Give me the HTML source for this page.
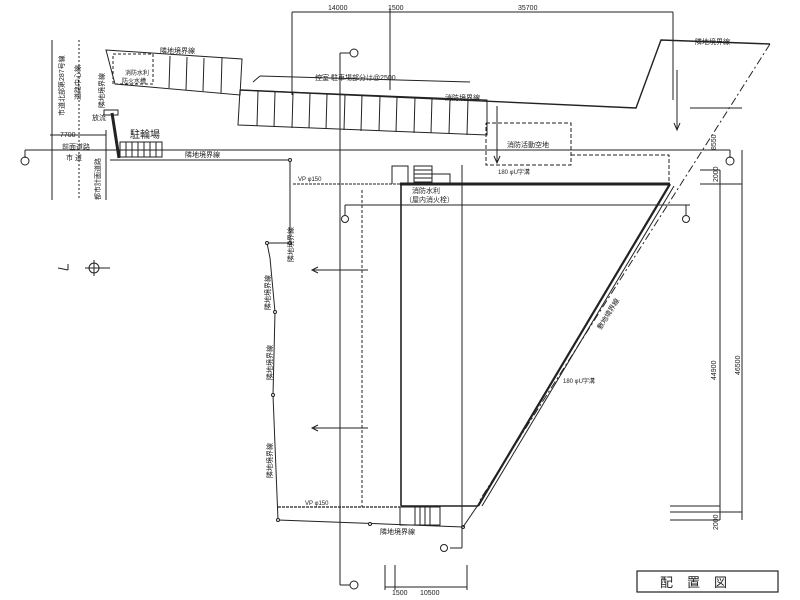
<!DOCTYPE html>
<html><head><meta charset="utf-8"><style>
html,body{margin:0;padding:0;background:#fff}
svg{display:block}
text{font-family:"Liberation Sans","Noto Sans CJK JP",sans-serif;fill:#222}
</style></head><body>
<svg width="800" height="600" viewBox="0 0 800 600" xmlns="http://www.w3.org/2000/svg">
<rect width="800" height="600" fill="#fff"/>
<g stroke="#222" fill="none" stroke-width="1">
<line x1="292" y1="12" x2="673" y2="12"/>
<line x1="292" y1="12" x2="292" y2="95"/>
<line x1="390" y1="8" x2="390" y2="90"/>
<line x1="673" y1="12" x2="673" y2="100"/>
<line x1="677" y1="70" x2="677" y2="130"/>
<polyline points="674,123 677,130 680,123"/>
<line x1="52" y1="40" x2="52" y2="200"/>
<line x1="79" y1="40" x2="79" y2="200" stroke-dasharray="2,2"/>
<line x1="106" y1="130" x2="106" y2="200"/>
<line x1="50" y1="135" x2="106" y2="135"/>
<line x1="25" y1="150" x2="730" y2="150"/>
<line x1="25" y1="150" x2="25" y2="158"/>
<circle cx="25" cy="161" r="4"/>
<line x1="730" y1="150" x2="730" y2="158"/>
<circle cx="730" cy="161" r="4"/>
<polygon points="106,50 242,59 240,95 115,84"/>
<rect x="113" y="54" width="40" height="30" stroke-dasharray="3,2"/>
<g>
<line x1="170" y1="56" x2="169" y2="88"/><line x1="187" y1="57" x2="186" y2="90"/>
<line x1="204" y1="58" x2="203" y2="91"/><line x1="222" y1="58" x2="221" y2="93"/>
</g>
<polyline points="240,90 636,108 661,40 770,44" stroke-width="1.4"/>
<line x1="770" y1="44" x2="480" y2="500" stroke-dasharray="8,3,2,3"/>
<polygon points="240,90 487,100 487,135 238,125"/>
<g>
<line x1="258" y1="91" x2="257" y2="126"/><line x1="275" y1="92" x2="274" y2="127"/>
<line x1="293" y1="93" x2="292" y2="128"/><line x1="310" y1="93" x2="309" y2="128"/>
<line x1="327" y1="94" x2="326" y2="129"/><line x1="345" y1="95" x2="344" y2="130"/>
<line x1="362" y1="95" x2="361" y2="131"/><line x1="380" y1="96" x2="379" y2="131"/>
<line x1="397" y1="97" x2="396" y2="132"/><line x1="415" y1="97" x2="414" y2="133"/>
<line x1="432" y1="98" x2="431" y2="133"/><line x1="450" y1="99" x2="449" y2="134"/>
<line x1="468" y1="99" x2="467" y2="135"/>
</g>
<line x1="253" y1="82" x2="260" y2="76"/><line x1="260" y1="76" x2="470" y2="82"/>
<polyline points="486,123 571,123 571,165 486,165 486,123" stroke-dasharray="4,2"/>
<polyline points="571,155 669,155 669,183" stroke-dasharray="4,2"/>
<line x1="497" y1="106" x2="497" y2="163"/><polyline points="494,156 497,163 500,156"/>
<rect x="120" y="142" width="42" height="15"/>
<g><line x1="126" y1="142" x2="126" y2="157"/><line x1="132" y1="142" x2="132" y2="157"/><line x1="138" y1="142" x2="138" y2="157"/><line x1="144" y1="142" x2="144" y2="157"/><line x1="150" y1="142" x2="150" y2="157"/><line x1="156" y1="142" x2="156" y2="157"/></g>
<line x1="112" y1="113" x2="119" y2="158" stroke-width="3"/>
<rect x="104" y="110" width="14" height="5"/>
<polyline points="110,160 290,160 290,243 267,243 270,258 275,312 273,395 278,520 463,527"/>
<g fill="#fff"><circle cx="290" cy="160" r="1.5"/><circle cx="290" cy="243" r="1.5"/><circle cx="267" cy="243" r="1.5"/><circle cx="275" cy="312" r="1.5"/><circle cx="273" cy="395" r="1.5"/><circle cx="278" cy="520" r="1.5"/><circle cx="370" cy="524" r="1.5"/><circle cx="463" cy="527" r="1.5"/></g>
<line x1="463" y1="527" x2="478" y2="505"/>
<line x1="293" y1="184" x2="400" y2="184" stroke-dasharray="3,1"/>
<line x1="278" y1="507" x2="400" y2="507" stroke-dasharray="3,1" stroke-width="1.3"/>
<line x1="400" y1="184" x2="670" y2="184" stroke-width="3"/>
<line x1="670" y1="184" x2="478" y2="506" stroke-width="2.2"/>
<line x1="674" y1="186" x2="482" y2="506"/>
<line x1="401" y1="184" x2="401" y2="506" stroke-width="1.6"/>
<line x1="401" y1="506" x2="478" y2="506" stroke-width="1.6"/>
<polyline points="392,184 392,166 408,166 408,184"/>
<rect x="414" y="166" width="18" height="16"/>
<g><line x1="414" y1="170" x2="432" y2="170"/><line x1="414" y1="174" x2="432" y2="174"/><line x1="414" y1="178" x2="432" y2="178"/></g>
<rect x="432" y="174" width="18" height="10"/>
<rect x="400" y="507" width="40" height="18"/>
<g><line x1="415" y1="507" x2="415" y2="525"/><line x1="420" y1="507" x2="420" y2="525"/><line x1="425" y1="507" x2="425" y2="525"/><line x1="430" y1="507" x2="430" y2="525"/></g>
<line x1="340" y1="53" x2="340" y2="585"/>
<line x1="340" y1="585" x2="350" y2="585"/>
<circle cx="354" cy="585" r="4"/>
<circle cx="354" cy="53" r="4"/>
<line x1="340" y1="53" x2="350" y2="53"/>
<line x1="362" y1="190" x2="362" y2="507" stroke-dasharray="3,2"/>
<line x1="462" y1="165" x2="462" y2="548"/>
<line x1="450" y1="548" x2="462" y2="548"/>
<circle cx="444" cy="548" r="3.5"/>
<line x1="345" y1="205" x2="690" y2="205"/>
<line x1="345" y1="205" x2="345" y2="215"/><circle cx="345" cy="219" r="3.5"/>
<line x1="686" y1="205" x2="686" y2="215"/><circle cx="686" cy="219" r="3.5"/>
<line x1="312" y1="270" x2="368" y2="270"/><polyline points="318,267 312,270 318,273"/>
<line x1="312" y1="428" x2="368" y2="428"/><polyline points="318,425 312,428 318,431"/>
<line x1="385" y1="565" x2="385" y2="590"/><line x1="395" y1="565" x2="395" y2="590"/>
<line x1="467" y1="565" x2="467" y2="590"/><line x1="385" y1="587" x2="467" y2="587"/>
<line x1="720" y1="170" x2="720" y2="520"/>
<line x1="742" y1="150" x2="742" y2="520"/>
<line x1="690" y1="108" x2="742" y2="108"/>
<line x1="700" y1="170" x2="720" y2="170"/>
<line x1="700" y1="184" x2="742" y2="184"/>
<line x1="670" y1="506" x2="720" y2="506"/>
<line x1="670" y1="512" x2="742" y2="512"/>
<line x1="670" y1="520" x2="720" y2="520"/>
<line x1="58" y1="268" x2="68" y2="270"/><line x1="68" y1="264" x2="68" y2="270"/>
<circle cx="94" cy="268" r="5"/><line x1="85" y1="268" x2="110" y2="268"/><line x1="94" y1="260" x2="94" y2="276"/>
<rect x="637" y="571" width="141" height="21" stroke-width="1.2"/>
</g>
<g font-size="7">
<text x="328" y="10">14000</text><text x="388" y="10">1500</text><text x="518" y="10">35700</text>
<text x="160" y="53">隣地境界線</text>
<text x="315" y="80">控室 駐車場部分は@2500</text>
<text x="445" y="100">消防境界線</text>
<text x="695" y="44">隣地境界線</text>
<text x="507" y="147">消防活動空地</text>
<text x="125" y="75" font-size="6">消防水利</text><text x="122" y="83" font-size="6">防火水槽</text>
<text x="92" y="120">放流</text>
<text x="60" y="137">7700</text>
<text x="62" y="149">前面道路</text>
<text x="66" y="160">市 道</text>
<text x="130" y="138" font-size="10">駐輪場</text>
<text x="185" y="157">隣地境界線</text>
<text x="298" y="181" font-size="6">VP φ150</text>
<text x="498" y="174" font-size="6">180 φU字溝</text>
<text x="412" y="193">消防水利</text>
<text x="405" y="202">（屋内消火栓）</text>
<text x="305" y="505" font-size="6">VP φ150</text>
<text x="380" y="534">隣地境界線</text>
<text x="563" y="383" font-size="6">180 φU字溝</text>
<text x="392" y="595">1500</text><text x="420" y="595">10500</text>
<text x="660" y="587" font-size="13" letter-spacing="14">配置図</text>
</g>
<g font-size="7">
<text transform="translate(64,116) rotate(-90)">市道北部第287号線</text>
<text transform="translate(80,100) rotate(-90)">道路中心線</text>
<text transform="translate(104,108) rotate(-90)">隣地境界線</text>
<text transform="translate(100,200) rotate(-90)">都市計画道路</text>
<text transform="translate(293,262) rotate(-90)">隣地境界線</text>
<text transform="translate(270,310) rotate(-90)">隣地境界線</text>
<text transform="translate(272,380) rotate(-90)">隣地境界線</text>
<text transform="translate(272,478) rotate(-90)">隣地境界線</text>
<text transform="translate(601,330) rotate(-58)">敷地境界線</text>
<text transform="translate(716,380) rotate(-90)">44900</text>
<text transform="translate(740,375) rotate(-90)">46500</text>
<text transform="translate(716,150) rotate(-90)">8550</text>
<text transform="translate(718,182) rotate(-90)">2000</text>
<text transform="translate(718,530) rotate(-90)">2000</text>
</g>
</svg>
</body></html>
